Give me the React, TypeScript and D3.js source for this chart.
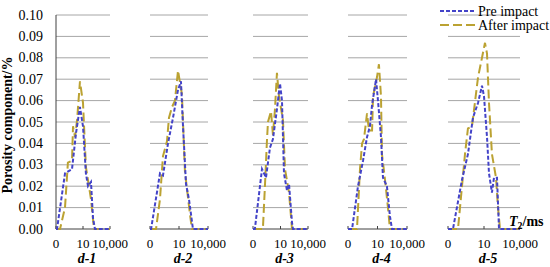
import React from 'react'
import * as d3 from 'd3'

// T2 (ms) vs porosity component (%)
const d1Pre = [[0.01, 0], [0.013, 0], [0.1, 0.026], [0.6, 0.028], [1.7, 0.045], [4.6, 0.057], [10, 0.048], [21, 0.026], [36, 0.02], [77, 0.022], [130, 0.005], [215, 0], [10000, 0]]
const d1After = [[0.01, 0], [0.028, 0], [0.1, 0.01], [0.21, 0.031], [0.6, 0.032], [0.78, 0.048], [1.3, 0.043], [2.2, 0.051], [4.6, 0.069], [10, 0.059], [21, 0.029], [77, 0.014], [166, 0], [10000, 0]]
const d2Pre = [[0.01, 0], [0.013, 0], [0.108, 0.026], [0.22, 0.025], [0.73, 0.04], [2.4, 0.052], [7.9, 0.065], [16, 0.069], [26, 0.048], [53, 0.021], [107, 0.014], [278, 0], [10000, 0]]
const d2After = [[0.01, 0], [0.042, 0], [0.108, 0.014], [0.22, 0.034], [0.57, 0.041], [0.92, 0.052], [1.9, 0.057], [3.8, 0.06], [7.9, 0.074], [20, 0.063], [41, 0.027], [135, 0.007], [219, 0], [10000, 0]]
const d3Pre = [[0.01, 0], [0.016, 0], [0.096, 0.028], [0.26, 0.024], [0.71, 0.038], [1.5, 0.042], [4.1, 0.056], [8.8, 0.068], [14.5, 0.06], [24, 0.026], [51, 0.018], [85, 0.021], [180, 0.003], [230, 0], [10000, 0]]
const d3After = [[0.01, 0], [0.12, 0], [0.2, 0.02], [0.33, 0.041], [0.43, 0.05], [0.92, 0.055], [1.5, 0.044], [2.5, 0.056], [4.1, 0.073], [6.8, 0.062], [18.5, 0.051], [31, 0.028], [85, 0.017], [180, 0], [10000, 0]]
const d4Pre = [[0.01, 0], [0.026, 0], [0.104, 0.02], [0.34, 0.032], [0.86, 0.043], [1.7, 0.048], [2.8, 0.058], [7.1, 0.07], [11.2, 0.06], [22.6, 0.043], [36, 0.024], [91, 0.02], [184, 0.006], [296, 0], [10000, 0]]
const d4After = [[0.01, 0], [0.082, 0], [0.166, 0.028], [0.27, 0.04], [0.42, 0.042], [0.86, 0.054], [1.37, 0.046], [2.8, 0.046], [3.5, 0.062], [8.9, 0.071], [14, 0.077], [22.6, 0.062], [28.5, 0.035], [58, 0.023], [116, 0.01], [184, 0], [10000, 0]]
const d5Pre = [[0.01, 0], [0.026, 0], [0.147, 0.023], [0.26, 0.029], [0.46, 0.035], [1.2, 0.052], [3.2, 0.059], [6.8, 0.067], [10, 0.062], [17.8, 0.043], [26, 0.026], [46, 0.017], [68, 0.024], [121, 0.024], [178, 0], [10000, 0]]
const d5After = [[0.01, 0], [0.068, 0], [0.147, 0.02], [0.26, 0.035], [0.46, 0.047], [1.0, 0.048], [3.2, 0.071], [6.8, 0.08], [12.1, 0.087], [17.8, 0.082], [26, 0.059], [46, 0.035], [100, 0.024], [147, 0.01], [215, 0], [10000, 0]]

const panelNames = ['d-1', 'd-2', 'd-3', 'd-4', 'd-5']
const preSeries = [d1Pre, d2Pre, d3Pre, d4Pre, d5Pre]
const afterSeries = [d1After, d2After, d3After, d4After, d5After]
const seriesNames = ['Pre impact', 'After impact']

const yTickValues = [0, 0.01, 0.02, 0.03, 0.04, 0.05, 0.06, 0.07, 0.08, 0.09, 0.1]
const xTickValues = [0.01, 10, 10000]
const xTickLabels = ['0', '10', '10,000']

const W = 550
const H = 267
const panelX = [[56, 110], [150, 208], [253, 308], [348, 407], [448, 520]]
const preColor = '#4343c8'
const afterColor = '#bba232'
const serif = '"Liberation Serif", "Times New Roman", serif'

const App = () => {
    const yScale = d3.scaleLinear().domain([0, 0.1]).range([229, 15])
    const fmt = d3.format('.2f')

    return (
        <div style={{ position: 'absolute', left: 0, top: 0 }}>
            <svg width={W} height={H} style={{ display: 'block', background: '#fff' }} fontFamily={serif}>
                {yTickValues.map(v => (
                    <text key={'yl' + v} x={43} y={yScale(v) + 4.5} textAnchor="end" fontSize={14}>{fmt(v)}</text>
                ))}
                <text transform={`translate(12, 125) rotate(-90)`} textAnchor="middle" fontSize={14} fontWeight="bold">Porosity component/%</text>

                {panelNames.map((name, i) => {
                    const [x0, x1] = panelX[i]
                    const xScale = d3.scaleLog().domain([0.01, 10000]).range([x0, x1])
                    const line = d3.line<number[]>().x(d => xScale(d[0])).y(d => yScale(d[1]))
                    return (
                        <g key={name}>
                            {yTickValues.filter(v => v > 0).map(v => (
                                <line key={v} x1={x0} x2={x1} y1={yScale(v)} y2={yScale(v)} stroke="#a6a6a6" strokeWidth={1} />
                            ))}
                            {i === 0 && <line x1={x0} x2={x0} y1={yScale(0.1)} y2={yScale(0)} stroke="#404040" strokeWidth={1} />}
                            <line x1={x0} x2={x1} y1={yScale(0)} y2={yScale(0)} stroke="#404040" strokeWidth={1} />
                            {xTickValues.map(v => (
                                <line key={'t' + v} x1={xScale(v)} x2={xScale(v)} y1={yScale(0)} y2={yScale(0) - 3} stroke="#404040" strokeWidth={1} />
                            ))}
                            <path d={line(afterSeries[i]) || ''} fill="none" stroke={afterColor} strokeWidth={2} strokeDasharray="9,4" />
                            <path d={line(preSeries[i]) || ''} fill="none" stroke={preColor} strokeWidth={2} strokeDasharray="4,2" />
                            {xTickValues.map((v, j) => (
                                <text key={'xl' + v} x={xScale(v)} y={248} textAnchor="middle" fontSize={13}>{xTickLabels[j]}</text>
                            ))}
                            <text x={(x0 + x1) / 2 + 4} y={263} textAnchor="middle" fontSize={14} fontWeight="bold" fontStyle="italic">{name}</text>
                        </g>
                    )
                })}

                <text x={509} y={226} fontSize={14} fontWeight="bold">
                    <tspan fontStyle="italic">T</tspan>
                    <tspan fontSize={10} dy={3}>2</tspan>
                    <tspan dy={-3}>/ms</tspan>
                </text>

                <line x1={440} x2={476} y1={11} y2={11} stroke={preColor} strokeWidth={2} strokeDasharray="4,2" />
                <text x={478} y={15.5} fontSize={14}>{seriesNames[0]}</text>
                <line x1={440} x2={476} y1={25} y2={25} stroke={afterColor} strokeWidth={2} strokeDasharray="9,4" />
                <text x={478} y={29.5} fontSize={14}>{seriesNames[1]}</text>
            </svg>
        </div>
    )
}

export default App
